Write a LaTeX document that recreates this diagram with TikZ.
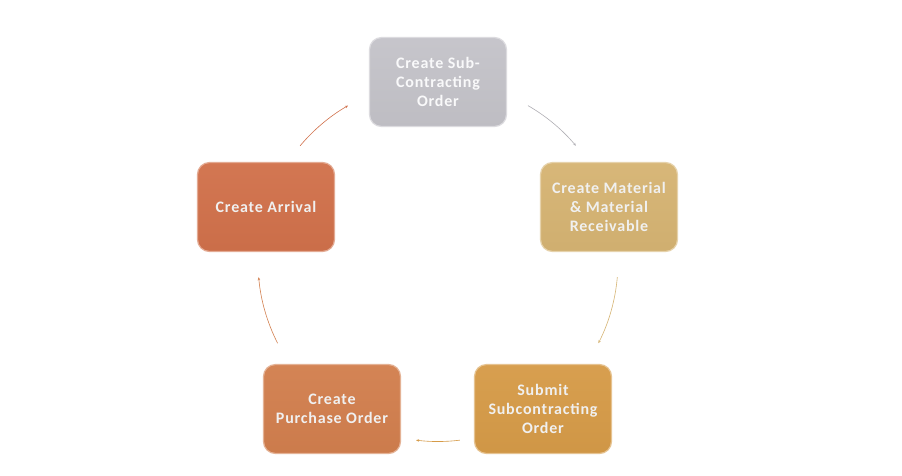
\documentclass[tikz,border=0pt]{standalone}
\usepackage{fontspec}
\setmainfont{Carlito}
\newfontfamily\boxfont[LetterSpace=5]{Carlito}
\usetikzlibrary{arrows.meta}
\definecolor{cgray}{HTML}{C4C3C9}
\definecolor{ctan}{HTML}{D6B473}
\definecolor{corange}{HTML}{D1714B}
\definecolor{cgold}{HTML}{D69B48}
\definecolor{cbrown}{HTML}{D27F4E}
\begin{document}
\begin{tikzpicture}[x=1pt,y=-1pt,
  stepbox/.style={rounded corners=12pt, minimum width=137pt, minimum height=89pt,
    align=center, font=\boxfont\bfseries\fontsize{16}{19}\selectfont, text=white!94!black,
    inner sep=2pt, line width=1.2pt},
  conn/.style={line width=0.6pt, -{Stealth[length=3pt,width=2.5pt]}}]
\useasboundingbox (0,0) rectangle (902,475);
\fill[white] (0,0) rectangle (902,475);
\def\R{180}
\coordinate (c) at (438,261.5);
\node[stepbox, top color=cgray!96!white, bottom color=cgray!97!black, draw=cgray!60!white, text=white!90!cgray] (n1) at (438,82) {Create Sub-\\Contracting\\Order};
\node[stepbox, top color=ctan!96!white, bottom color=ctan!97!black, draw=ctan!60!white] (n2) at (609,207) {Create Material\\\& Material\\Receivable};
\node[stepbox, top color=cgold!96!white, bottom color=cgold!97!black, draw=cgold!60!white] (n3) at (543,409) {Submit\\Subcontracting\\Order};
\node[stepbox, top color=cbrown!96!white, bottom color=cbrown!97!black, draw=cbrown!60!white] (n4) at (332,409) {Create\\Purchase Order};
\node[stepbox, top color=corange!96!white, bottom color=corange!97!black, draw=corange!60!white] (n5) at (266,207) {Create Arrival};
\path (c) ++(-60:\R) coordinate (a1s);
\path (c) ++(5:\R) coordinate (a2s);
\path (c) ++(83:\R) coordinate (a3s);
\path (c) ++(153:\R) coordinate (a4s);
\path (c) ++(-140:\R) coordinate (a5s);
\draw[conn, draw=cgray!90!black] (a1s) arc[start angle=-60, end angle=-40, radius=\R];
\draw[conn, draw=ctan] (a2s) arc[start angle=5, end angle=27, radius=\R];
\draw[conn, draw=cgold] (a3s) arc[start angle=83, end angle=97, radius=\R];
\draw[conn, draw=cbrown] (a4s) arc[start angle=153, end angle=175, radius=\R];
\draw[conn, draw=corange] (a5s) arc[start angle=-140, end angle=-120, radius=\R];
\end{tikzpicture}
\end{document}
